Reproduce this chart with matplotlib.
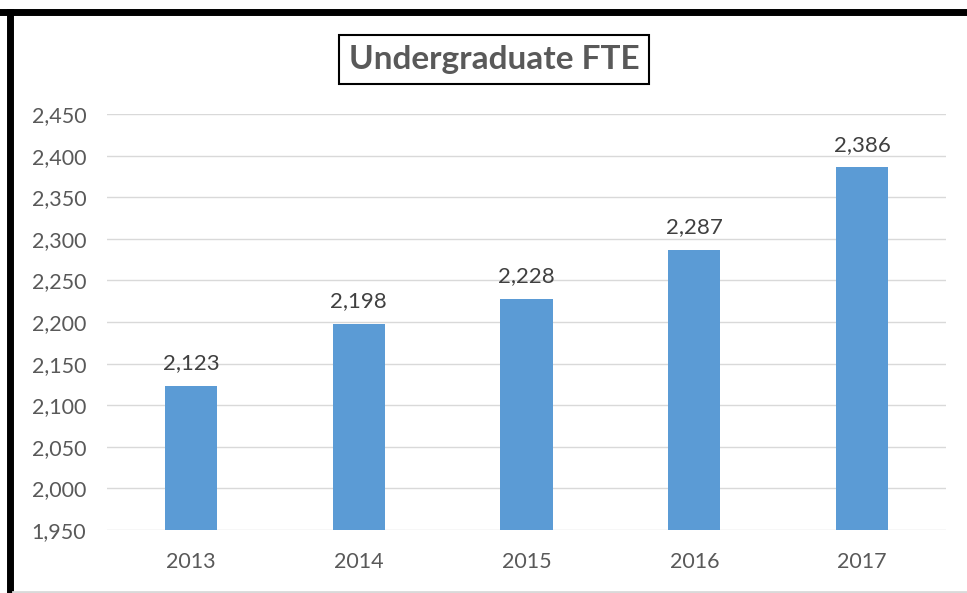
import matplotlib
matplotlib.use("Agg")
import matplotlib.pyplot as plt
from matplotlib.ticker import FuncFormatter

years  = ["2013", "2014", "2015", "2016", "2017"]
fte    = [2123, 2198, 2228, 2287, 2386]
yticks = [1950, 2000, 2050, 2100, 2150, 2200, 2250, 2300, 2350, 2400, 2450]

plt.rcParams["font.family"] = ["Lato", "DejaVu Sans"]

W, H = 967, 593
fig = plt.figure(figsize=(W / 100, H / 100), dpi=100)
ax = fig.add_axes([107 / W, 1 - 530 / H, (946 - 107) / W, (530 - 114) / H])

x = range(len(years))
ax.bar(x, [v - yticks[0] for v in fte], bottom=yticks[0], width=0.31, color="#5B9BD5", zorder=3)
for xi, v in zip(x, fte):
    ax.text(xi, v + 15, f"{v:,}", ha="center", va="bottom", fontsize=16, color="#404040")

ax.set_xlim(-0.5, len(years) - 0.5)
ax.set_ylim(yticks[0], yticks[-1])
ax.set_yticks(yticks)
ax.yaxis.set_major_formatter(FuncFormatter(lambda v, p: f"{int(v):,}"))
ax.set_xticks(list(x))
ax.set_xticklabels(years)
ax.tick_params(axis="both", length=0, labelsize=15.5, labelcolor="#595959")
ax.tick_params(axis="y", pad=15)
ax.tick_params(axis="x", pad=16)
ax.grid(axis="y", color="#D9D9D9", lw=1, zorder=0)
for s in ax.spines.values():
    s.set_visible(False)

# title in a box
fig.text(494 / W, 1 - 59 / H, "Undergraduate FTE", ha="center", va="center",
         fontsize=24, fontweight="bold", color="#595959",
         bbox=dict(boxstyle="square,pad=0.3", fc="white", ec="black", lw=1.5))

# outer frame: thick black top/left, light bottom
fig.add_artist(plt.Line2D([0, 1], [1 - 12 / H, 1 - 12 / H], color="black", lw=5, transform=fig.transFigure))
fig.add_artist(plt.Line2D([10 / W, 10 / W], [0, 1 - 12 / H], color="black", lw=5, transform=fig.transFigure))
fig.add_artist(plt.Line2D([13 / W, 1], [1.5 / H, 1.5 / H], color="#D9D9D9", lw=2, transform=fig.transFigure))

fig.savefig("out.png", dpi=100)
